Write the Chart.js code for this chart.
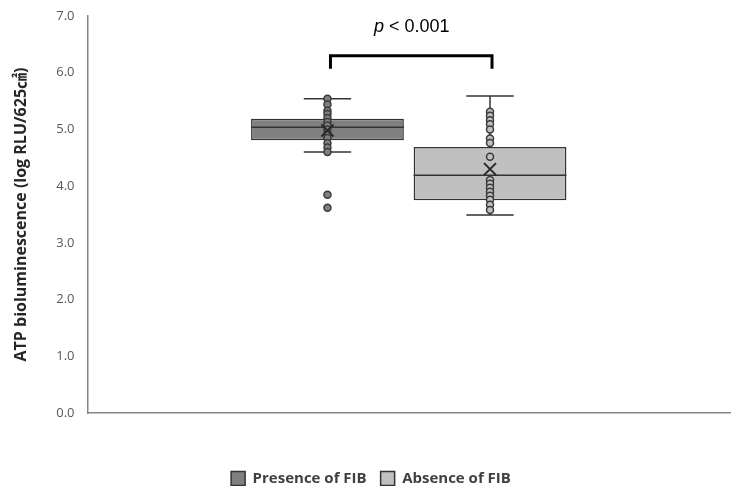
<!DOCTYPE html>
<html>
<head>
<meta charset="utf-8">
<script src="https://cdn.jsdelivr.net/npm/chart.js@4.4.1/dist/chart.umd.min.js"></script>
<style>
  html, body { margin: 0; padding: 0; background: #fff; }
  #wrap { width: 733px; height: 486px; }
</style>
</head>
<body>
<div id="wrap"><canvas id="myChart" width="733" height="486"></canvas></div>
<script>
'use strict';

const categories = [''];
const seriesNames = ['Presence of FIB', 'Absence of FIB'];
const seriesColors = ['#808080', '#c0c0c0'];

// box statistics
const q1Values = [4.81, 3.75];
const medianValues = [5.04, 4.19];
const q3Values = [5.19, 4.69];
const minValues = [4.60, 3.49];
const maxValues = [5.54, 5.59];
const meanValues = [4.98, 4.30];

// individual points
const presencePoints = [5.54, 5.44, 5.33, 5.27, 5.20, 5.13, 5.07, 5.00, 4.92, 4.85, 4.76, 4.68, 4.60, 3.85, 3.62];
const absencePoints = [5.31, 5.24, 5.16, 5.09, 5.00, 4.84, 4.76, 4.52, 4.11, 4.04, 3.97, 3.90, 3.83, 3.76, 3.67, 3.58];
const pointValues = [presencePoints, absencePoints];

const yTicks = [0, 1, 2, 3, 4, 5, 6, 7];

// significance bracket
const bracketTop = 6.30;
const bracketEnds = 6.07;
const pTextLevel = 6.80;
const pSymbol = 'p';
const pRest = ' < 0.001';

const data = {
  labels: categories,
  datasets: seriesNames.map((name, i) => ({
    label: name,
    data: [[q1Values[i], q3Values[i]]],
    backgroundColor: seriesColors[i],
    borderColor: '#333333',
    borderWidth: 1.5,
    borderSkipped: false,
    categoryPercentage: 0.506,
    barPercentage: 0.94
  }))
};

// boxPlot plugin: medians, whiskers, points, means, bracket
const boxParts = {
  id: 'boxParts',
  afterDatasetsDraw(chart) {
    const { ctx, scales: { y } } = chart;
    ctx.save();
    const centers = [];
    chart.data.datasets.forEach((ds, i) => {
      const bar = chart.getDatasetMeta(i).data[0];
      const cx = bar.x;
      const half = bar.width / 2;
      const cap = bar.width * 0.155;
      centers.push(cx);
      ctx.strokeStyle = '#333333';
      ctx.lineWidth = 1.5;

      ctx.beginPath();
      ctx.moveTo(cx - half, y.getPixelForValue(medianValues[i]));
      ctx.lineTo(cx + half, y.getPixelForValue(medianValues[i]));
      // whiskers
      ctx.moveTo(cx, y.getPixelForValue(q3Values[i]));
      ctx.lineTo(cx, y.getPixelForValue(maxValues[i]));
      ctx.moveTo(cx - cap, y.getPixelForValue(maxValues[i]));
      ctx.lineTo(cx + cap, y.getPixelForValue(maxValues[i]));
      ctx.moveTo(cx, y.getPixelForValue(q1Values[i]));
      ctx.lineTo(cx, y.getPixelForValue(minValues[i]));
      ctx.moveTo(cx - cap, y.getPixelForValue(minValues[i]));
      ctx.lineTo(cx + cap, y.getPixelForValue(minValues[i]));
      ctx.stroke();

      pointValues[i].forEach(v => {
        ctx.beginPath();
        ctx.arc(cx, y.getPixelForValue(v), 3.5, 0, Math.PI * 2);
        ctx.fillStyle = seriesColors[i];
        ctx.fill();
        ctx.lineWidth = 1.5;
        ctx.strokeStyle = '#3a3a3a';
        ctx.stroke();
      });

      // mean marker
      const my = y.getPixelForValue(meanValues[i]);
      ctx.beginPath();
      ctx.lineWidth = 2;
      ctx.strokeStyle = '#2a2a2a';
      ctx.moveTo(cx - 6, my - 6);
      ctx.lineTo(cx + 6, my + 6);
      ctx.moveTo(cx + 6, my - 6);
      ctx.lineTo(cx - 6, my + 6);
      ctx.stroke();
    });

    // bracket
    const by = y.getPixelForValue(bracketTop);
    const be = y.getPixelForValue(bracketEnds);
    ctx.beginPath();
    ctx.lineWidth = 3;
    ctx.strokeStyle = '#000';
    ctx.lineJoin = 'miter';
    ctx.moveTo(centers[0] + 3, be);
    ctx.lineTo(centers[0] + 3, by);
    ctx.lineTo(centers[1] + 2, by);
    ctx.lineTo(centers[1] + 2, be);
    ctx.stroke();

    // p value
    const mid = (centers[0] + centers[1]) / 2 + 3;
    const ty = y.getPixelForValue(pTextLevel);
    ctx.textBaseline = 'middle';
    ctx.fillStyle = '#000';
    ctx.font = 'italic 18px "Liberation Sans", Arial, sans-serif';
    const w1 = ctx.measureText(pSymbol).width;
    ctx.font = '18px "Liberation Sans", Arial, sans-serif';
    const w2 = ctx.measureText(pRest).width;
    const start = mid - (w1 + w2) / 2;
    ctx.font = 'italic 18px "Liberation Sans", Arial, sans-serif';
    ctx.textAlign = 'left';
    ctx.fillText(pSymbol, start, ty);
    ctx.font = '18px "Liberation Sans", Arial, sans-serif';
    ctx.fillText(pRest, start + w1, ty);
    ctx.restore();
  }
};

const config = {
  type: 'bar',
  data,
  options: {
    responsive: false,
    animation: false,
    layout: {
      padding: { top: 16, left: 12, right: 3, bottom: -10 }
    },
    plugins: {
      legend: {
        position: 'bottom',
        labels: {
          boxWidth: 14,
          boxHeight: 14,
          padding: 14,
          color: '#404040',
          font: { family: '"Open Sans", sans-serif', size: 15, weight: 'bold' }
        }
      },
      tooltip: { enabled: false }
    },
    scales: {
      x: {
        grid: { display: false, drawTicks: false },
        ticks: { display: false },
        border: { display: true, color: '#868686', width: 1.5 },
        afterFit(scale) { scale.height = 44; }
      },
      y: {
        min: 0,
        max: 7,
        afterBuildTicks(scale) { scale.ticks = yTicks.map(v => ({ value: v })); },
        grid: { display: false },
        border: { display: true, color: '#868686', width: 1.5 },
        ticks: {
          padding: 5,
          color: '#595959',
          font: { family: '"Open Sans", sans-serif', size: 13 },
          callback: v => Number(v).toFixed(1)
        },
        title: {
          display: true,
          text: 'ATP bioluminescence (log RLU/625㎠)',
          color: '#262626',
          padding: { top: 0, bottom: 20 },
          font: { family: '"Open Sans", "Noto Sans CJK JP", sans-serif', size: 16, weight: 'bold' }
        }
      }
    }
  },
  plugins: [boxParts]
};

const myChart = new Chart(document.getElementById('myChart'), config);
</script>
</body>
</html>
